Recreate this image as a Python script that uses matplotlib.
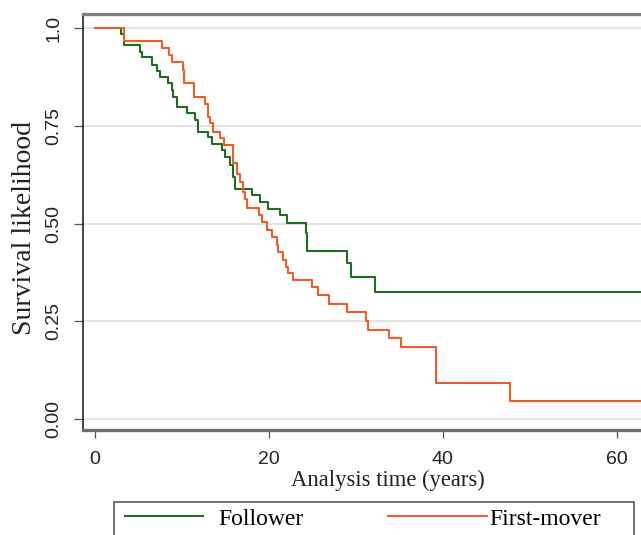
import matplotlib
matplotlib.use("Agg")
import matplotlib.pyplot as plt
from matplotlib.patches import Rectangle

# Kaplan-Meier step curves (time in years, survival)
follower_t = [0, 3.0, 3.3, 5.2, 5.4, 6.5, 7.1, 7.5, 8.4, 8.8, 9.0, 9.4, 10.6,
              11.5, 11.9, 13.0, 13.4, 14.6, 15.0, 15.5, 15.9, 16.1, 18.0, 19.0,
              19.9, 21.3, 22.1, 24.3, 24.4, 29.0, 29.4, 32.2, 70]
follower_s = [1.0, 0.986, 0.957, 0.939, 0.925, 0.905, 0.891, 0.875, 0.860,
              0.841, 0.824, 0.799, 0.783, 0.765, 0.735, 0.722, 0.703, 0.688,
              0.671, 0.650, 0.620, 0.588, 0.573, 0.556, 0.536, 0.522, 0.502,
              0.476, 0.430, 0.398, 0.364, 0.326, 0.326]

first_t = [0, 3.3, 7.7, 8.55, 8.8, 10.1, 10.25, 11.4, 12.65, 13.0, 13.2, 13.6,
           14.4, 14.85, 15.9, 16.3, 16.7, 17.05, 17.25, 17.45, 18.9, 19.2,
           19.75, 20.3, 20.95, 21.1, 21.6, 21.95, 22.25, 22.8, 25.0, 25.7,
           26.95, 28.95, 31.2, 31.35, 33.85, 35.15, 39.2, 47.7, 70]
first_s = [1.0, 0.968, 0.948, 0.931, 0.914, 0.893, 0.860, 0.824, 0.807, 0.773,
           0.757, 0.735, 0.718, 0.701, 0.654, 0.628, 0.607, 0.581, 0.564, 0.539,
           0.522, 0.505, 0.483, 0.466, 0.445, 0.428, 0.407, 0.390, 0.374, 0.356,
           0.337, 0.317, 0.295, 0.274, 0.251, 0.228, 0.206, 0.185, 0.093, 0.047,
           0.047]

yticks = [0, 0.25, 0.5, 0.75, 1.0]
ytick_labels = ["0.00", "0.25", "0.50", "0.75", "1.0"]
xticks = [0, 20, 40, 60]

green = "#226b22"
orange = "#ec5f2c"
sans = ["Liberation Sans", "DejaVu Sans"]
serif = ["Liberation Serif", "DejaVu Serif"]

fig = plt.figure(figsize=(6.41, 5.35), dpi=100)
ax = fig.add_axes([0.129, 0.1963, 0.871, 0.7775])

for yv in yticks:
    ax.axhline(yv, color="#dedede", lw=1.2, zorder=1)

l1, = ax.step(follower_t, follower_s, where="post", color=green, lw=1.5, zorder=3)
l2, = ax.step(first_t, first_s, where="post", color=orange, lw=1.5, zorder=3)

ax.set_xlim(-1.42, 62.8)
ax.set_ylim(-0.028, 1.036)

ax.set_yticks(yticks)
ax.set_yticklabels(ytick_labels, rotation=90, va="center", family=sans, fontsize=14)
ax.set_xticks(xticks)
ax.set_xticklabels([str(v) for v in xticks], family=sans, fontsize=14)
ax.tick_params(axis="y", length=6.5, width=0.9, color="#555555", pad=8, labelcolor="#222222")
ax.tick_params(axis="x", length=5.8, width=0.9, color="#555555", pad=9, labelcolor="#222222")

ax.spines["right"].set_visible(False)
ax.spines["left"].set_color("#111111")
ax.spines["left"].set_linewidth(1.1)
ax.spines["top"].set_color("#808080")
ax.spines["top"].set_linewidth(2.4)
ax.spines["bottom"].set_color("#6e6e6e")
ax.spines["bottom"].set_linewidth(2.4)

ax.set_ylabel("Survival likelihood", family=serif, fontsize=20, color="#222222")
ax.yaxis.set_label_coords(-0.082, 0.486)
ax.set_xlabel("Analysis time (years)", family=serif, fontsize=16.3, color="#222222")
ax.xaxis.set_label_coords(0.547, -0.095)

# legend box (cut off at the bottom edge like the original)
fig.patches.append(Rectangle((114 / 641, -0.02), 520 / 641, 0.0817, transform=fig.transFigure,
                             facecolor="white", edgecolor="#666666", lw=1.3, zorder=0))
# two keys: the first-mover key is longer and sits right against its text
leg_kw = dict(loc="center left", borderpad=0, borderaxespad=0, frameon=False,
              prop={"family": serif, "size": 17})
leg1 = fig.legend([l1], ["Follower"], bbox_to_anchor=(125 / 641, 0.030),
                  handlelength=3.3, handletextpad=0.65, **leg_kw)
leg2 = fig.legend([l2], ["First-mover"], bbox_to_anchor=(388 / 641, 0.030),
                  handlelength=4.2, handletextpad=0.1, **leg_kw)
for lg in (leg1, leg2):
    for h in lg.get_lines():
        h.set_linewidth(1.5)

fig.savefig("out.png", dpi=100)
